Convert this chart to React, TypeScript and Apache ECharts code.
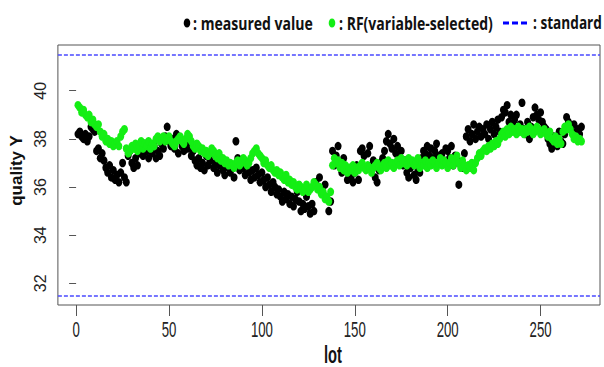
import React, { useEffect, useRef } from "react";
import * as echarts from "echarts";

// measured value (black), lots 1..272
const measured = [
  38.2, 38.3, 38.1, 38.0, 38.2, 37.9, 38.1, 38.5, 38.4, 38.3,
  37.5, 37.6, 37.2, 37.4, 37.1, 36.8, 36.6, 36.9, 36.4, 36.7,
  36.3, 36.5, 36.2, 36.6, 37.0, 36.4, 36.2, 37.3, 37.5, 37.0,
  36.8, 37.2, 36.9, 37.4, 37.6, 37.3, 37.8, 37.5, 37.2, 37.6,
  37.4, 37.7, 37.2, 37.5, 37.3, 37.8, 37.6, 38.1, 38.5, 37.9,
  37.7, 38.0, 37.6, 38.2, 37.4, 38.0, 37.7, 37.5, 37.9, 37.6,
  37.8, 37.3, 37.5, 37.1, 36.9, 37.2, 36.8, 37.0, 36.7, 37.3,
  36.9, 37.1, 37.4, 36.8, 37.0, 36.6, 36.9, 37.2, 36.7, 36.5,
  37.0, 36.8, 36.6, 36.9, 36.4, 37.9, 37.2, 36.7, 37.0, 36.8,
  36.5, 36.9, 36.6, 36.3, 36.7, 36.4, 36.8, 36.5, 36.2, 36.6,
  36.3, 36.0, 36.4, 36.1, 35.8, 36.2, 36.0, 35.7, 35.9, 35.6,
  35.4, 35.8, 35.5, 35.7, 35.3, 35.6, 35.2, 35.5, 35.8, 35.4,
  35.0, 35.3, 35.1, 35.6, 35.2, 34.9, 35.3, 35.0, 36.2, 36.0,
  36.4, 35.9, 35.7, 36.1, 35.5, 35.0, 35.4, 37.5, 36.9, 37.3,
  37.7, 37.0, 36.6, 37.2, 36.8, 36.3, 36.5, 36.4, 36.2, 36.6,
  36.9, 36.3, 37.5, 37.6, 37.3, 36.8, 37.4, 37.7, 36.9, 37.1,
  36.4, 36.2, 36.7, 37.0, 37.2, 37.5, 37.9, 38.2, 37.8, 37.6,
  38.0, 37.4, 37.7, 37.2, 37.5, 36.9, 37.1, 36.6, 36.4, 36.8,
  37.0, 36.5, 36.3, 36.7, 36.6, 37.2, 37.5, 37.4, 37.7, 37.3,
  37.6, 37.2, 37.5, 37.8, 37.3, 37.0, 37.4, 37.1, 37.6, 37.5,
  37.2, 37.7, 36.9, 37.3, 37.1, 36.1, 37.0, 36.8, 37.4, 38.1,
  38.4, 37.9, 38.2, 38.6, 38.0, 38.3, 38.5, 38.1, 38.4, 38.2,
  38.6, 38.0, 38.4, 38.7, 38.2, 38.5, 38.8, 38.3, 38.9, 39.2,
  39.1, 39.4, 38.7, 39.0, 38.6, 38.8, 39.0, 38.3, 38.6, 39.5,
  38.4, 38.2, 38.7, 38.0, 38.5, 38.9, 39.3, 39.0, 38.8, 39.1,
  38.7, 38.5, 38.4, 38.0, 37.8, 37.6, 38.1, 37.9, 37.7, 38.3,
  37.9, 37.8, 38.2, 38.9, 38.7, 38.5, 38.3, 38.6, 38.0, 38.4,
  38.2, 38.5,
];

// RF (variable-selected) prediction (green), lots 1..272
const rfPred = [
  39.4, 39.3, 39.1, 39.2, 39.0, 38.9, 39.0, 38.7, 38.8, 38.6,
  38.5, 38.6, 38.3, 38.1, 38.2, 37.9, 38.0, 37.8, 37.9, 37.7,
  37.8, 37.9, 37.7, 38.1, 38.3, 38.4, 37.6, 37.4, 37.5, 37.7,
  37.6, 37.8, 37.5, 37.7, 37.9, 37.6, 37.8, 37.7, 37.9, 37.6,
  37.8, 37.7, 38.0, 38.1, 37.9, 38.0, 38.1, 37.9, 38.0, 38.1,
  37.9, 37.8, 37.7, 37.9, 38.0, 38.1, 37.9, 37.8, 38.0, 38.2,
  38.1, 37.9, 37.7, 37.6, 37.8, 37.7, 37.5, 37.6, 37.4, 37.5,
  37.3, 37.4, 37.6, 37.5, 37.3, 37.2, 37.4, 37.1, 37.2, 37.0,
  37.1, 36.9, 37.0, 36.9, 36.8, 37.0, 37.1, 36.9, 37.0, 37.2,
  37.1, 36.9, 37.0, 37.2, 37.4, 37.5, 37.6, 37.4, 37.3, 37.2,
  37.0, 37.1, 36.9, 36.8, 36.9, 36.7, 36.6, 36.7, 36.5, 36.6,
  36.4, 36.3, 36.5, 36.2, 36.3, 36.1, 36.2, 36.0, 35.9, 36.1,
  36.0, 35.8, 35.9, 36.1, 35.8, 35.9, 36.0, 36.2, 36.1, 35.9,
  36.0, 35.7, 35.8, 35.5, 35.6, 35.4, 35.8, 36.9, 37.2, 37.0,
  37.1, 36.8, 37.0, 36.7, 36.9, 36.6, 36.8, 36.7, 36.9, 36.6,
  36.8, 36.7, 36.9, 37.0, 36.8, 36.7, 36.9, 36.8, 36.6, 36.8,
  36.9, 37.0, 36.8, 36.7, 36.9, 37.0, 36.8, 37.1, 36.9, 37.0,
  36.8, 37.0, 37.1, 36.9, 37.2, 37.0, 37.1, 36.9, 37.2, 37.0,
  37.1, 36.9, 37.0, 37.2, 36.8, 37.0, 36.9, 37.1, 36.8, 37.0,
  36.9, 37.1, 37.0, 36.8, 37.0, 37.2, 36.9, 37.1, 37.0, 36.8,
  37.0, 37.2, 36.9, 37.1, 37.3, 37.0, 36.8, 37.1, 36.9, 36.7,
  36.9, 36.8, 37.0, 36.7, 37.0, 37.2, 37.4, 37.3, 37.5, 37.6,
  37.5, 37.7, 37.6, 37.8, 37.7, 37.9, 37.8, 38.0, 38.2, 38.3,
  38.1, 38.4, 38.2, 38.5, 38.3, 38.4, 38.2, 38.5, 38.3, 38.4,
  38.2, 38.4, 38.3, 38.5, 38.4, 38.2, 38.3, 38.5, 38.4, 38.2,
  38.3, 38.4, 38.2, 38.1, 38.3, 38.0, 37.9, 38.1, 37.8, 38.0,
  37.8, 38.3, 38.5, 38.4, 38.6, 38.4, 38.2, 38.0, 38.1, 37.9,
  38.0, 37.9,
];

const standards = [31.5, 41.5];
const xTicks = [0, 50, 100, 150, 200, 250];
const yTicks = [32, 34, 36, 38, 40];
const legendTexts = [": measured value", ": RF(variable-selected)", ": standard"];
const xName = "lot";
const yName = "quality Y";

const LEGEND_FONT = '"Open Sans", "Liberation Sans", sans-serif';
const AXIS_FONT = '"Liberation Sans", Arial, sans-serif';
const X_MIN = -9.8;
const X_MAX = 282;

function fitScale(text: string, size: number, target: number): number {
  const c = document.createElement("canvas").getContext("2d");
  if (!c) return 1;
  c.font = `bold ${size}px ${LEGEND_FONT}`;
  const w = c.measureText(text).width;
  return w > 0 ? target / w : 1;
}

export default function App() {
  const ref = useRef<HTMLDivElement>(null);

  useEffect(() => {
    if (!ref.current) return;
    const chart = echarts.init(ref.current, null, { renderer: "svg" });

    const mData = measured.map((v, i) => [i + 1, v]);
    const rData = rfPred.map((v, i) => [i + 1, v]);

    const lf = 17;
    const ly = 23;
    const legendSpec = [
      { text: legendTexts[0], x: 193, w: 120 },
      { text: legendTexts[1], x: 339, w: 154 },
      { text: legendTexts[2], x: 533, w: 69 },
    ];

    const legendGraphics: any[] = [
      {
        type: "ellipse",
        shape: { cx: 187, cy: ly, rx: 3.3, ry: 4.6 },
        style: { fill: "#000" },
      },
      {
        type: "ellipse",
        shape: { cx: 332, cy: ly, rx: 3.3, ry: 4.6 },
        style: { fill: "#14ee14" },
      },
      {
        type: "line",
        shape: { x1: 503, y1: ly, x2: 529, y2: ly },
        style: { stroke: "#0000ff", lineWidth: 3, lineDash: [6, 3] },
      },
      ...legendSpec.map((s) => ({
        type: "text",
        x: s.x,
        y: ly,
        scaleX: fitScale(s.text, lf, s.w),
        style: {
          text: s.text,
          fill: "#111",
          fontFamily: LEGEND_FONT,
          fontWeight: "bold",
          fontSize: lf,
          align: "left",
          verticalAlign: "middle",
        },
      })),
    ];

    chart.setOption({
      animation: false,
      backgroundColor: "#fff",
      grid: {
        left: 52,
        right: 4,
        top: 45,
        bottom: 62,
        show: true,
        borderColor: "#555",
        borderWidth: 1,
        backgroundColor: "transparent",
      },
      xAxis: {
        type: "value",
        min: X_MIN,
        max: X_MAX,
        splitLine: { show: false },
        axisLine: { show: false },
        axisTick: {
          show: true,
          customValues: xTicks,
          length: 11,
          lineStyle: { color: "#555", width: 1 },
        },
        axisLabel: { show: false, customValues: xTicks },
      },
      yAxis: {
        type: "value",
        min: 31.1,
        max: 41.9,
        name: yName,
        nameLocation: "middle",
        nameGap: 21,
        nameTextStyle: {
          fontFamily: AXIS_FONT,
          fontWeight: "bold",
          fontSize: 17,
          color: "#111",
          padding: [0, 0, 0, 9],
        },
        splitLine: { show: false },
        axisLine: { show: false },
        axisTick: {
          show: true,
          customValues: yTicks,
          length: 7,
          lineStyle: { color: "#555", width: 1 },
        },
        axisLabel: {
          customValues: yTicks,
          rotate: 90,
          fontFamily: AXIS_FONT,
          fontSize: 16,
          color: "#222",
          margin: 9,
        },
      },
      graphic: legendGraphics,
      series: [
        {
          name: "measured value",
          type: "scatter",
          data: mData,
          symbol: "circle",
          symbolSize: [7, 8.5],
          itemStyle: { color: "#000", opacity: 1 },
          silent: true,
          markLine: {
            silent: true,
            symbol: "none",
            label: { show: false },
            lineStyle: { color: "#4a4aff", type: [4, 2], width: 1.5 },
            data: standards.map((v) => ({ yAxis: v })),
          },
        },
        {
          name: "RF(variable-selected)",
          type: "scatter",
          data: rData,
          symbol: "circle",
          symbolSize: [7, 8.5],
          itemStyle: { color: "#14ee14", opacity: 1 },
          silent: true,
        },
      ],
    });

    // condensed x tick labels and axis title, placed through the axis scale
    const axisY = chart.convertToPixel({ yAxisIndex: 0 }, 31.1) as number;
    const leftPx = chart.convertToPixel({ xAxisIndex: 0 }, X_MIN) as number;
    const rightPx = chart.convertToPixel({ xAxisIndex: 0 }, X_MAX) as number;
    const tickLabels = xTicks.map((v) => ({
      type: "text",
      x: chart.convertToPixel({ xAxisIndex: 0 }, v) as number,
      y: axisY + 25,
      scaleX: 0.6,
      style: {
        text: String(v),
        fill: "#222",
        fontFamily: AXIS_FONT,
        fontSize: 22,
        align: "center",
        verticalAlign: "middle",
      },
    }));
    const xTitle = {
      type: "text",
      x: (leftPx + rightPx) / 2 + 4,
      y: axisY + 50,
      scaleX: 0.64,
      style: {
        text: xName,
        fill: "#111",
        fontFamily: AXIS_FONT,
        fontWeight: "bold",
        fontSize: 23,
        align: "center",
        verticalAlign: "middle",
      },
    };
    chart.setOption({ graphic: [...legendGraphics, ...tickLabels, xTitle] });

    return () => chart.dispose();
  }, []);

  return (
    <div
      ref={ref}
      style={{ position: "fixed", left: 0, top: 0, width: 604, height: 367 }}
    />
  );
}
